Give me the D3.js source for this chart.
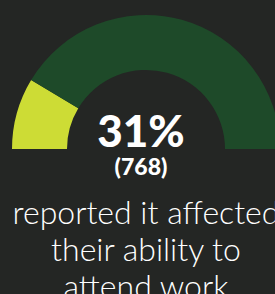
<!DOCTYPE html>
<html>
<head>
<meta charset="utf-8">
<script src="https://cdn.jsdelivr.net/npm/d3@7"></script>
<style>
  html, body { margin: 0; padding: 0; background: #242624; overflow: hidden; }
</style>
</head>
<body>
<div id="chart"></div>
<script>
// gauge data (segment shares of the half circle)
var segments = ["affected", "rest"];
var segmentValues = [31, 149];
var segmentColors = ["#cddc35", "#1e4a29"];
var pctLabel = "31%";
var countLabel = "(768)";
var captionLines = ["reported it affected", "their ability to", "attend work"];

var width = 275, height = 294;
var cx = 146, cy = 149;
var outerR = 134, innerR = 79;

var svg = d3.select("#chart").append("svg")
  .attr("width", width)
  .attr("height", height);

svg.append("rect")
  .attr("width", width)
  .attr("height", height)
  .attr("fill", "#242624");

var pie = d3.pie()
  .sort(null)
  .startAngle(-Math.PI / 2)
  .endAngle(Math.PI / 2);

var arc = d3.arc()
  .innerRadius(innerR)
  .outerRadius(outerR);

var color = d3.scaleOrdinal()
  .domain(segments)
  .range(segmentColors);

var data = segments.map(function(s, i) { return {key: s, value: segmentValues[i]}; });

var g = svg.append("g")
  .attr("transform", "translate(" + cx + "," + cy + ")");

g.selectAll("path")
  .data(pie.value(function(d) { return d.value; })(data))
  .enter()
  .append("path")
  .attr("d", arc)
  .attr("fill", function(d) { return color(d.data.key); });

svg.append("text")
  .attr("x", 141)
  .attr("y", 147)
  .attr("text-anchor", "middle")
  .attr("fill", "#ffffff")
  .style("font-family", "Lato")
  .style("font-weight", 900)
  .style("font-size", "44px")
  .text(pctLabel);

svg.append("text")
  .attr("x", 141)
  .attr("y", 175)
  .attr("text-anchor", "middle")
  .attr("fill", "#ffffff")
  .style("font-family", "Lato")
  .style("font-weight", 900)
  .style("font-size", "23px")
  .text(countLabel);

svg.selectAll(".caption")
  .data(captionLines)
  .enter()
  .append("text")
  .attr("class", "caption")
  .attr("x", 146)
  .attr("y", function(d, i) { return 224 + i * 37; })
  .attr("text-anchor", "middle")
  .attr("fill", "#ffffff")
  .style("font-family", "Lato")
  .style("font-weight", 300)
  .style("font-size", "32px")
  .text(function(d) { return d; });
</script>
</body>
</html>
